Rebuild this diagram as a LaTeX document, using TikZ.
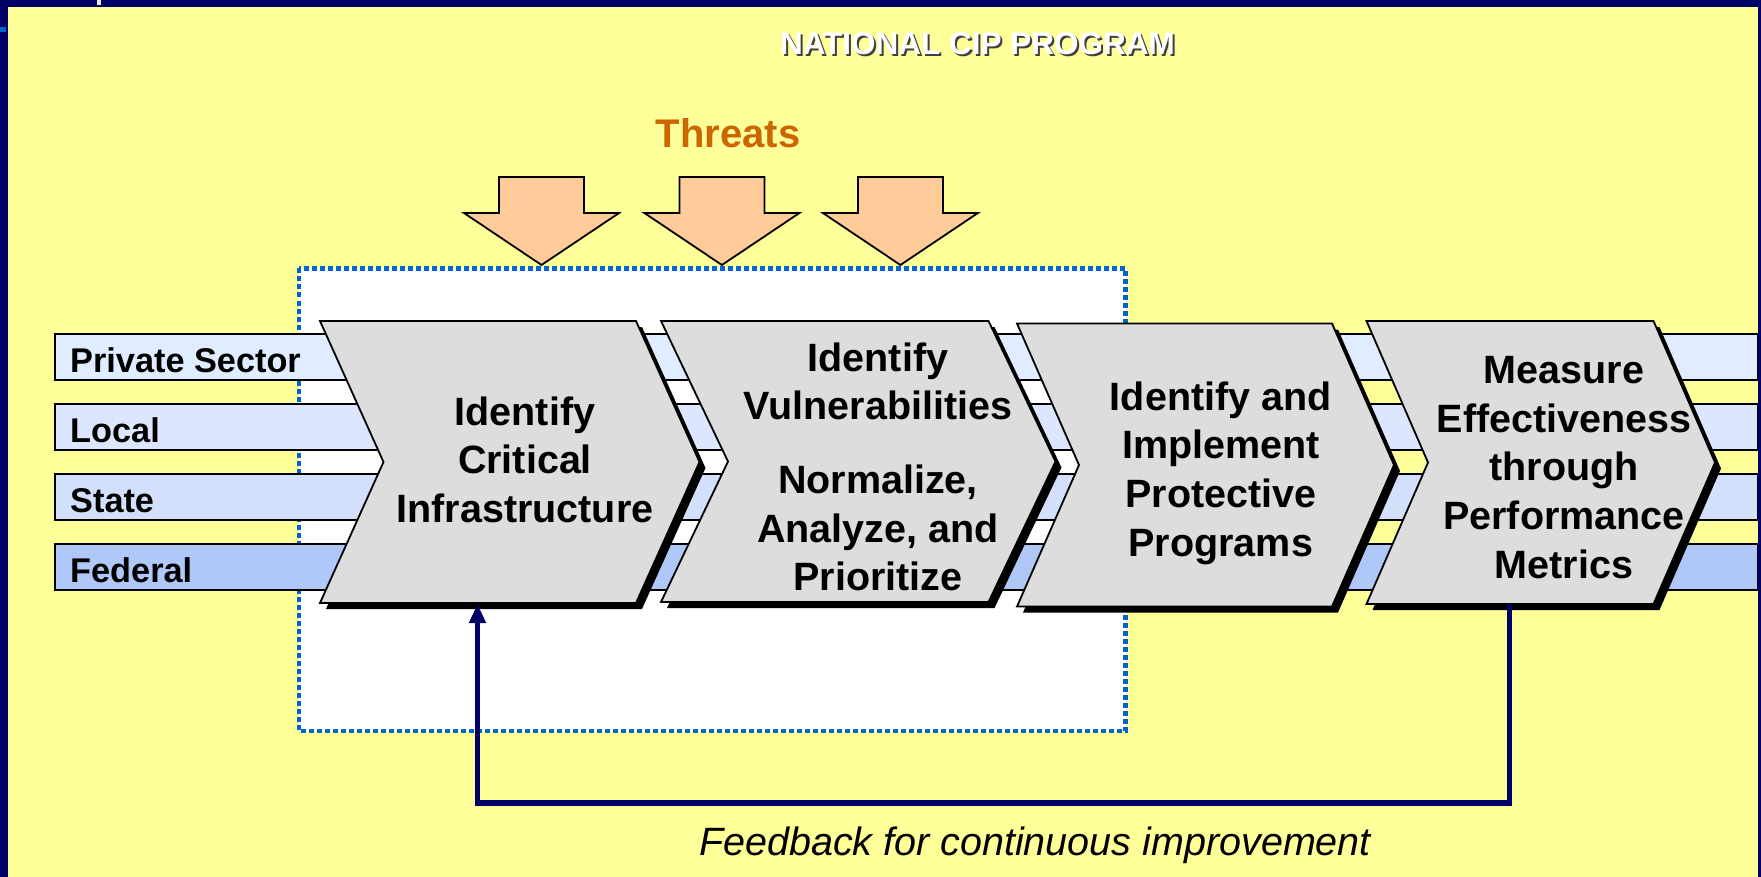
\documentclass[tikz,border=0pt]{standalone}
\usepackage{fontspec}
\setmainfont{Liberation Sans}
\usetikzlibrary{arrows.meta}

\definecolor{navy}{RGB}{0,0,102}
\definecolor{paper}{RGB}{255,255,153}
\definecolor{dotblue}{RGB}{0,102,204}
\definecolor{peach}{RGB}{255,204,153}
\definecolor{threatorange}{RGB}{204,102,0}
\definecolor{stepgray}{RGB}{221,221,221}
\definecolor{lanepriv}{RGB}{224,236,255}
\definecolor{lanelocal}{RGB}{221,230,255}
\definecolor{lanestate}{RGB}{210,224,252}
\definecolor{lanefed}{RGB}{176,200,248}

% multi-line step label whose base anchor is the first baseline
\newcommand{\steplines}[1]{\begin{tabular}[t]{@{}c@{}}#1\end{tabular}}

\begin{document}
\begin{tikzpicture}[x=1pt,y=-1pt,line join=miter,
  lanebar/.style={draw=black,line width=1.5pt},
  lanelabel/.style={anchor=base west,inner sep=0pt,font=\bfseries\fontsize{34.3}{40}\selectfont},
  stepshape/.style={fill=stepgray,draw=black,line width=1.8pt},
  stepshadow/.style={fill=black},
  steptext/.style={anchor=base,inner sep=0pt,font=\bfseries\fontsize{39.5}{48.7}\selectfont},
  threatshape/.style={fill=peach,draw=black,line width=1.8pt},
  feedback/.style={draw=navy,line width=5.5pt},
  titletext/.style={anchor=base,inner sep=0pt,font=\bfseries\fontsize{31.5}{36}\selectfont},
]
\useasboundingbox (0,0) rectangle (1761,877);

% slide frame and background
\fill[navy] (0,0) rectangle (1761,877);
\fill[paper] (8,7) rectangle (1757.5,877);
\fill[white!85!gray] (97,0) rectangle (101,5);
\fill[dotblue] (0,27) rectangle (6,32);

% title with drop shadow
\node[titletext,text=black!75] (titleshadow) at (979.5,57) {NATIONAL CIP PROGRAM};
\node[titletext,text=white] (title) at (977.5,55) {NATIONAL CIP PROGRAM};

% threats
\node[anchor=base,inner sep=0pt,text=threatorange,font=\bfseries\fontsize{40}{48}\selectfont] (threats) at (728,148) {Threats};

% dotted assessment area
\draw[dotblue,fill=white,line width=4.5pt,dash pattern=on 5pt off 3pt] (299,268.5) rectangle (1125.5,731);

\foreach \cx in {541.5,721.9,900.4}{
  \draw[threatshape] ({\cx-42.5},177) -- ({\cx+42.5},177) -- ({\cx+42.5},213) -- ({\cx+77.5},213)
    -- (\cx,265) -- ({\cx-77.5},213) -- ({\cx-42.5},213) -- cycle;
}

% stakeholder lanes
\draw[lanebar,fill=lanepriv]  (55,334) rectangle (1757.5,380);
\draw[lanebar,fill=lanelocal] (55,404) rectangle (1757.5,450);
\draw[lanebar,fill=lanestate] (55,474) rectangle (1757.5,520);
\draw[lanebar,fill=lanefed]   (55,544) rectangle (1757.5,590);
\node[lanelabel] (lpriv)  at (70,372.5) {Private Sector};
\node[lanelabel] (llocal) at (70,442.5) {Local};
\node[lanelabel] (lstate) at (70,512.5) {State};
\node[lanelabel] (lfed)   at (70,582.5) {Federal};

% process steps (chevrons with shadow)
\fill[stepshadow,shift={(6,6)}] (320,321) -- (636,321) -- (699.5,462) -- (636,603) -- (320,603) -- (383.5,462) -- cycle;
\draw[stepshape] (320,321) -- (636,321) -- (699.5,462) -- (636,603) -- (320,603) -- (383.5,462) -- cycle;

\fill[stepshadow,shift={(6,6)}] (661,321) -- (988.5,321) -- (1055.5,461.5) -- (988.5,602) -- (661,602) -- (728,461.5) -- cycle;
\draw[stepshape] (661,321) -- (988.5,321) -- (1055.5,461.5) -- (988.5,602) -- (661,602) -- (728,461.5) -- cycle;

\fill[stepshadow,shift={(6,6)}] (1017,323.5) -- (1332,323.5) -- (1394,465) -- (1332,606.5) -- (1017,606.5) -- (1079,465) -- cycle;
\draw[stepshape] (1017,323.5) -- (1332,323.5) -- (1394,465) -- (1332,606.5) -- (1017,606.5) -- (1079,465) -- cycle;

\fill[stepshadow,shift={(6,6)}] (1366.5,321) -- (1653.5,321) -- (1715,462.5) -- (1653.5,604) -- (1366.5,604) -- (1428,462.5) -- cycle;
\draw[stepshape] (1366.5,321) -- (1653.5,321) -- (1715,462.5) -- (1653.5,604) -- (1366.5,604) -- (1428,462.5) -- cycle;

\node[steptext] (s1) at (525,425) {\steplines{Identify\\Critical\\Infrastructure}};
\node[steptext] (s2) at (878,371) {\steplines{Identify\\Vulnerabilities\\[25pt]Normalize,\\Analyze, and\\Prioritize}};
\node[steptext] (s3) at (1220.8,410) {\steplines{Identify and\\Implement\\Protective\\Programs}};
\node[steptext] (s4) at (1564,383.3) {\steplines{Measure\\Effectiveness\\through\\Performance\\Metrics}};

% feedback loop
\coordinate (s1foot) at (477.5,604);
\coordinate (s4foot) at (1509.5,604);
\draw[feedback,-{Triangle[length=19pt,width=16pt]}] (s4foot) -- ++(0,199) -| (s1foot);
\node[anchor=base,inner sep=0pt,font=\itshape\fontsize{39.5}{46}\selectfont] (fbtext) at (1035,855) {Feedback for continuous improvement};
\end{tikzpicture}
\end{document}
